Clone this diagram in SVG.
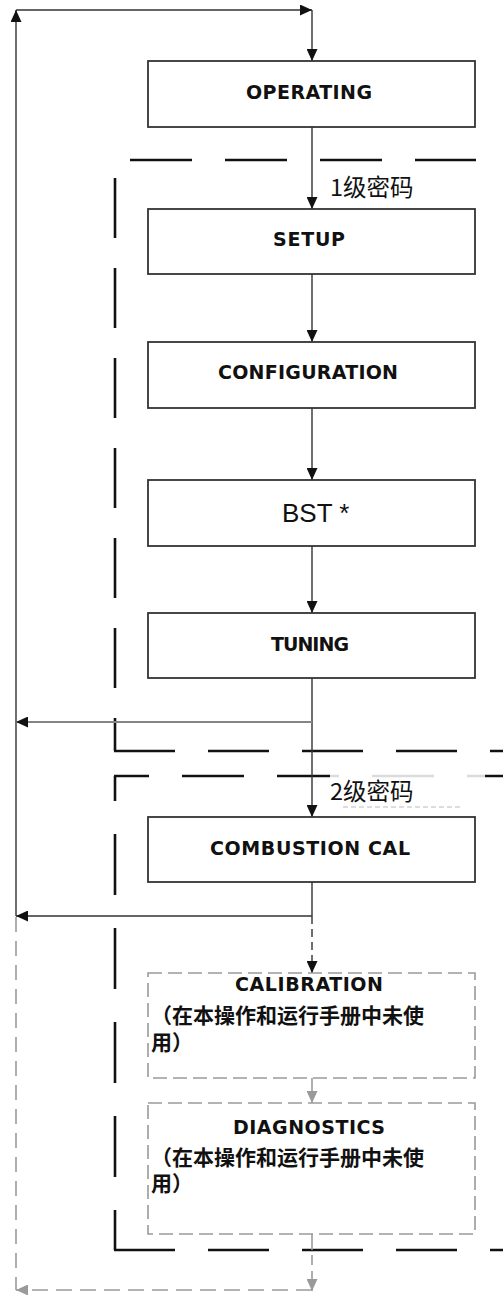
<svg xmlns="http://www.w3.org/2000/svg" width="503" height="1295" viewBox="0 0 503 1295">
<style>
.box{fill:#fff;stroke:#333;stroke-width:1.8}
.gbox{fill:#fff;stroke:#9a9a9a;stroke-width:1.6;stroke-dasharray:14 6}
.lbl{font-family:"DejaVu Sans",Verdana,sans-serif;font-weight:bold;font-size:19px;fill:#111}
.cjk{font-family:"Noto Sans CJK SC",sans-serif;font-size:23.5px;fill:#111}
.cjkb{font-family:"Noto Sans CJK SC",sans-serif;font-weight:bold;font-size:21px;fill:#111}
.ln{fill:none;stroke:#333;stroke-width:1.4}
.gln{fill:none;stroke:#9a9a9a;stroke-width:1.6}
.fence{fill:none;stroke:#111;stroke-width:2.6}
</style>
<defs>
<marker id="ah" markerUnits="userSpaceOnUse" markerWidth="12" markerHeight="11" refX="12" refY="5.5" orient="auto">
<path d="M0,0 L12,5.5 L0,11 z" fill="#111"/>
</marker>
<marker id="gah" markerUnits="userSpaceOnUse" markerWidth="12" markerHeight="11" refX="12" refY="5.5" orient="auto">
<path d="M0,0 L12,5.5 L0,11 z" fill="#9a9a9a"/>
</marker>
</defs>

<g id="fences">
<line class="fence" x1="130" y1="160" x2="476" y2="160" stroke-dasharray="62 33"/>
<line class="fence" x1="115" y1="178" x2="115" y2="751" stroke-dasharray="60 30"/>
<line class="fence" x1="114" y1="751" x2="503" y2="751" stroke-dasharray="61 33"/>
<line class="fence" x1="114" y1="776" x2="503" y2="776" stroke-dasharray="62 33" stroke-dashoffset="27"/>
<line class="fence" x1="115" y1="776" x2="115" y2="1250" stroke-dasharray="61 33" stroke-dashoffset="36"/>
<line class="fence" x1="114" y1="1250" x2="503" y2="1250" stroke-dasharray="61 33"/>
</g>

<g id="connectors">
<line class="ln" x1="16" y1="916" x2="16" y2="10" marker-end="url(#ah)"/>
<line class="ln" x1="16" y1="10" x2="312" y2="10" marker-end="url(#ah)"/>
<line class="ln" x1="312" y1="10" x2="312" y2="61" marker-end="url(#ah)"/>
<line class="ln" x1="312" y1="127" x2="312" y2="209" marker-end="url(#ah)"/>
<line class="ln" x1="312" y1="274" x2="312" y2="342" marker-end="url(#ah)"/>
<line class="ln" x1="312" y1="408" x2="312" y2="480" marker-end="url(#ah)"/>
<line class="ln" x1="312" y1="546" x2="312" y2="613" marker-end="url(#ah)"/>
<line class="ln" x1="312" y1="678" x2="312" y2="817" marker-end="url(#ah)"/>
<line x1="312" y1="722" x2="16" y2="722" fill="none" stroke="#858585" stroke-width="2" marker-end="url(#ah)"/>
<line class="ln" x1="312" y1="882" x2="312" y2="916"/>
<line class="ln" x1="312" y1="916" x2="16" y2="916" stroke="#111" marker-end="url(#ah)"/>
<line class="ln" x1="312" y1="916" x2="312" y2="973" stroke="#555" stroke-dasharray="8 5" marker-end="url(#ah)"/>
<line class="gln" x1="312" y1="1078" x2="312" y2="1103" marker-end="url(#gah)"/>
<line class="gln" x1="312" y1="1234" x2="312" y2="1250"/>
<line class="gln" x1="312" y1="1255" x2="312" y2="1291" stroke-dasharray="10 6" marker-end="url(#gah)"/>
<line class="gln" x1="16" y1="917" x2="16" y2="1290" stroke-dasharray="15 9"/>
<line class="gln" x1="312" y1="1290" x2="16" y2="1290" stroke-dasharray="16 8" marker-end="url(#gah)"/>
</g>

<g id="label-level1">
<text class="cjk" x="330" y="196">1级密码</text>
</g>

<g id="label-level2">
<rect x="330" y="770" width="155" height="38" fill="#fff" fill-opacity="0.85"/>
<line x1="343" y1="807" x2="462" y2="807" stroke="#bbb" stroke-width="1" stroke-dasharray="5 3"/>
<text class="cjk" x="330" y="800">2级密码</text>
</g>

<g id="operating">
<rect class="box" x="148" y="61" width="327" height="66"/>
<text class="lbl" x="246" y="99" textLength="126" lengthAdjust="spacing">OPERATING</text>
</g>
<g id="setup">
<rect class="box" x="148" y="209" width="327" height="65"/>
<text class="lbl" x="273" y="246" textLength="72" lengthAdjust="spacing">SETUP</text>
</g>
<g id="configuration">
<rect class="box" x="148" y="342" width="327" height="66"/>
<text class="lbl" x="218" y="379" textLength="180" lengthAdjust="spacing">CONFIGURATION</text>
</g>
<g id="bst">
<rect class="box" x="148" y="480" width="327" height="66"/>
<text x="282" y="522" font-family="'Liberation Sans',Arial,sans-serif" font-size="26" fill="#111">BST *</text>
</g>
<g id="tuning">
<rect class="box" x="148" y="613" width="327" height="65"/>
<text class="lbl" x="271" y="651" textLength="78" lengthAdjust="spacing">TUNING</text>
</g>
<g id="combustion-cal">
<rect class="box" x="148" y="817" width="327" height="65"/>
<text class="lbl" x="210" y="855" textLength="200" lengthAdjust="spacing">COMBUSTION CAL</text>
</g>
<g id="calibration">
<rect class="gbox" x="148" y="973" width="327" height="105"/>
<text class="lbl" x="235" y="991" textLength="148" lengthAdjust="spacing">CALIBRATION</text>
<text class="cjkb" x="151" y="1023">（在本操作和运行手册中未使</text>
<text class="cjkb" x="151" y="1050">用）</text>
</g>
<g id="diagnostics">
<rect class="gbox" x="148" y="1103" width="327" height="131"/>
<text class="lbl" x="233" y="1134" textLength="152" lengthAdjust="spacing">DIAGNOSTICS</text>
<text class="cjkb" x="151" y="1165">（在本操作和运行手册中未使</text>
<text class="cjkb" x="151" y="1191">用）</text>
</g>
</svg>
